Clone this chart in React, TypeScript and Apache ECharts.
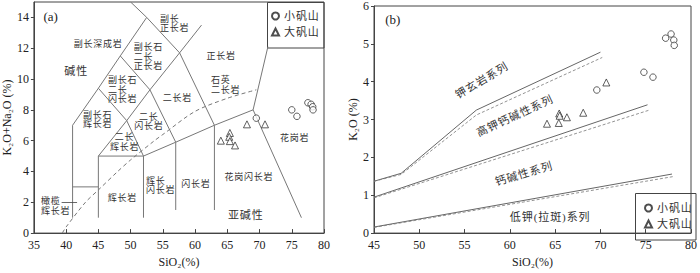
import React, { useEffect, useRef } from 'react';
import * as echarts from 'echarts';

// ---------- data ----------
// (a) TAS diagram points [SiO2, K2O+Na2O]
const xiaoA = [[69.5, 7.46], [75.0, 8.0], [75.8, 7.58], [77.5, 8.46], [78.0, 8.36], [78.25, 8.2], [78.3, 8.0]];
const daA = [[64.0, 6.0], [65.4, 6.5], [65.3, 6.25], [65.4, 5.97], [66.2, 5.69], [68.05, 7.06], [70.85, 7.06]];
// (b) K2O vs SiO2 points
const xiaoB = [[69.6, 3.78], [74.8, 4.25], [75.8, 4.12], [77.2, 5.15], [77.8, 5.26], [78.1, 5.1], [78.15, 4.96]];
const daB = [[64.1, 2.89], [65.4, 2.91], [65.45, 3.16], [65.5, 3.1], [66.3, 3.06], [68.1, 3.18], [70.65, 3.98]];

// (a) field boundaries
const tasLines = [
  [[41, 1], [41, 7]],
  [[41, 3], [45, 3]],
  [[45, 1], [45, 5]],
  [[45, 5], [52, 5], [52, 1]],
  [[45, 5], [49.4, 7.3], [52, 5]],
  [[41, 7], [45, 9.4], [48.4, 11.5], [52.5, 14], [50, 15]],
  [[45, 9.4], [49.4, 7.3]],
  [[48.4, 11.5], [53, 9.3]],
  [[49.4, 7.3], [53, 9.3], [57.6, 11.7], [61, 13.5]],
  [[53, 9.3], [57, 5.9]],
  [[52, 5], [57, 5.9], [63, 7], [69, 8]],
  [[52.5, 14], [57.6, 11.7], [63, 7]],
  [[57, 5.9], [57, 1.5]],
  [[63, 7], [63, 1.5]],
  [[69, 8], [76.5, 1]],
  [[69, 8], [71.3, 12.1]],
];
// Irvine & Baragar alkaline / subalkaline divide
const divideCurve = [[39.4, 0], [40, 0.4], [43, 2], [45, 2.8], [48, 4], [50, 4.75], [53.7, 6], [55, 6.4], [60, 7.9], [65, 8.75], [69.5, 9.3]];

// (b) series boundaries
const kSolid = [
  [[45, 1.37], [48, 1.58], [56.3, 3.25], [70, 4.78]],
  [[45, 0.95], [75.2, 3.39]],
  [[45, 0.16], [77.9, 1.56]],
];
const kDashed = [
  [[45, 1.37], [48, 1.55], [56.3, 3.12], [70.2, 4.64]],
  [[45, 0.93], [75.4, 3.25]],
  [[45, 0.15], [78.2, 1.5]],
];

const namesXiao = '小矾山';
const namesDa = '大矾山';

// annotations: [text, x, y, align, fontSize, rotate]
type Lab = [string, number, number, string, number, number];
const tasLabels: Lab[] = [
  ['副长深成岩', 44.9, 12.3, 'center', 9, 0],
  ['副长\n正长岩', 54.55, 13.6, 'left', 9, 0],
  ['副长石\n二长\n正长岩', 50.5, 11.44, 'left', 9, 0],
  ['碱性', 41.5, 10.5, 'center', 11, 0],
  ['副长石\n二长\n闪长岩', 46.48, 9.31, 'left', 9, 0],
  ['副长石\n辉长岩', 42.6, 7.375, 'left', 9, 0],
  ['二长\n闪长岩', 52.77, 7.25, 'center', 9, 0],
  ['二长\n辉长岩', 49.0, 5.9, 'center', 9, 0],
  ['二长岩', 57.2, 8.8, 'center', 9, 0],
  ['正长岩', 64.0, 11.5, 'center', 9, 0],
  ['石英\n二长岩', 62.47, 9.6, 'left', 9, 0],
  ['花岗岩', 75.4, 6.16, 'center', 9, 0],
  ['花岗闪长岩', 68.3, 3.66, 'center', 9, 0],
  ['闪长岩', 60.06, 3.19, 'center', 9, 0],
  ['辉长\n闪长岩', 52.38, 3.1, 'left', 9, 0],
  ['辉长岩', 48.66, 2.25, 'center', 9, 0],
  ['橄榄\n辉长岩', 36.09, 1.75, 'left', 9, 0],
  ['亚碱性', 67.8, 1.19, 'center', 11, 0],
];
const kLabels: Lab[] = [
  ['钾玄岩系列', 56.85, 4.03, 'center', 11, 31],
  ['高钾钙碱性系列', 60.5, 3.1, 'center', 11, 25],
  ['钙碱性系列', 61.5, 1.57, 'center', 11, 16.5],
  ['低钾(拉斑)系列', 64.4, 0.43, 'center', 11, 0],
];
const panelTags: [string, number, number][] = [['(a)', 37.6, 14.05], ['(b)', 47.07, 5.65]];
const arrowLine = [[39.3, 2.03], [41.7, 2.03]];

// ---------- styles ----------
const SERIF = '"Liberation Serif", "DejaVu Serif", serif';
const CJK = '"Liberation Serif", "Noto Sans CJK SC", sans-serif';
const AXIS = '#444';
const LINE = '#777';
const sp = (s: string) => Array.from(s).join('\u200A');
const SCALE = 2; // draw small texts large, then scale down

function buildOption() {
  const series: any[] = [];
  tasLines.forEach((pl, i) =>
    series.push({
      type: 'line', xAxisIndex: 0, yAxisIndex: 0, data: pl, symbol: 'none', silent: true, lineStyle: { color: LINE, width: 1 }, z: 2,
      ...(i === 0
        ? {
            markLine: {
              silent: true, symbol: ['none', 'arrow'], symbolSize: [0, 5], animation: false,
              lineStyle: { color: '#444', width: 0.8, type: 'solid' }, label: { show: false },
              data: [[{ coord: arrowLine[0] }, { coord: arrowLine[1] }]],
            },
          }
        : {}),
    })
  );
  series.push({ type: 'line', xAxisIndex: 0, yAxisIndex: 0, data: divideCurve, symbol: 'none', smooth: 0.3, silent: true, lineStyle: { color: LINE, width: 1, type: [4, 3] }, z: 2 });
  kSolid.forEach((pl) =>
    series.push({ type: 'line', xAxisIndex: 1, yAxisIndex: 1, data: pl, symbol: 'none', silent: true, lineStyle: { color: '#666', width: 1 }, z: 2 })
  );
  kDashed.forEach((pl) =>
    series.push({ type: 'line', xAxisIndex: 1, yAxisIndex: 1, data: pl, symbol: 'none', silent: true, lineStyle: { color: '#777', width: 0.8, type: [3, 2] }, z: 2 })
  );
  const pt = (name: string, data: number[][], sym: string, idx: number) => ({
    type: 'scatter', name, xAxisIndex: idx, yAxisIndex: idx, data, symbol: sym, symbolSize: sym === 'triangle' ? 7 : 6.5, z: 5,
    itemStyle: { color: '#fff', borderColor: '#222', borderWidth: 0.9 },
  });
  series.push(pt(namesXiao, xiaoA, 'circle', 0));
  series.push(pt(namesDa, daA, 'triangle', 0));
  series.push(pt(namesXiao, xiaoB, 'circle', 1));
  series.push(pt(namesDa, daB, 'triangle', 1));

  const axisCommon = {
    type: 'value',
    splitLine: { show: false },
    axisLine: { show: true, lineStyle: { color: AXIS, width: 1 } },
    axisLabel: { color: '#222', fontFamily: SERIF, fontSize: 12 },
    nameTextStyle: { color: '#222', fontFamily: SERIF, fontSize: 12 },
    nameLocation: 'middle',
  };
  const xAx = (idx: number, min: number, max: number) => ({
    ...axisCommon, gridIndex: idx, min, max, interval: 5,
    axisTick: { inside: true, length: 4, lineStyle: { color: AXIS } },
    axisLabel: { ...axisCommon.axisLabel, margin: 6 },
    name: 'SiO₂(%)', nameGap: 19,
  });
  const legendCommon = {
    orient: 'vertical', itemWidth: 7, itemHeight: 7, itemGap: 2, padding: 0, z: 10,
    data: [namesXiao, namesDa],
    textStyle: { fontFamily: CJK, fontSize: 11, color: '#333', lineHeight: 14 },
    formatter: (n: string) => sp(n),
    selectedMode: false,
  };
  return {
    animation: false,
    backgroundColor: '#fff',
    grid: [
      { left: 33, right: 376, top: 2, bottom: 31, show: true, borderColor: AXIS, borderWidth: 1 },
      { left: 374, right: 4, top: 3, bottom: 33, show: true, borderColor: AXIS, borderWidth: 1 },
    ],
    xAxis: [xAx(0, 35, 80), xAx(1, 45, 80)],
    yAxis: [
      {
        ...axisCommon, gridIndex: 0, min: 0, max: 15, interval: 2,
        axisTick: { inside: false, length: 3, lineStyle: { color: AXIS } },
        axisLabel: { ...axisCommon.axisLabel, margin: 5, showMaxLabel: false },
        name: 'K₂O+Na₂O (%)', nameGap: 19,
      },
      {
        ...axisCommon, gridIndex: 1, min: 0, max: 6, interval: 1,
        axisTick: { inside: false, length: 3, lineStyle: { color: AXIS } },
        axisLabel: { ...axisCommon.axisLabel, margin: 5 },
        name: 'K₂O (%)', nameGap: 12,
      },
    ],
    legend: [
      { ...legendCommon, left: 271, top: 9 },
      { ...legendCommon, left: 644, top: 201 },
    ],
    series,
  };
}

function buildGraphics(chart: echarts.ECharts) {
  const els: any[] = [
    { type: 'rect', z: 1, silent: true, shape: { x: 267.5, y: 2.5, width: 56.5, height: 45.5 }, style: { fill: 'none', stroke: AXIS, lineWidth: 1 } },
    { type: 'rect', z: 1, silent: true, shape: { x: 635.5, y: 193.5, width: 60.5, height: 46.5 }, style: { fill: 'none', stroke: AXIS, lineWidth: 1 } },
  ];
  const addLabels = (labs: Lab[], idx: number) =>
    labs.forEach(([text, x, y, align, fs, rot]) => {
      const p = chart.convertToPixel({ xAxisIndex: idx, yAxisIndex: idx } as any, [x, y]) as number[];
      const lines = text.split('\n');
      const lh = fs + 0.5;
      lines.forEach((line, i) => {
        const dy = (i - (lines.length - 1) / 2) * lh;
        els.push({
          type: 'text', silent: true, z: 3, x: p[0], y: p[1] + dy, rotation: (rot * Math.PI) / 180,
          scaleX: 1 / SCALE, scaleY: 1 / SCALE,
          style: { text: sp(line), fill: '#333', fontFamily: CJK, fontSize: fs * SCALE, align, verticalAlign: 'middle' },
        });
      });
    });
  addLabels(tasLabels, 0);
  addLabels(kLabels, 1);
  panelTags.forEach(([text, x, y], idx) => {
    const p = chart.convertToPixel({ xAxisIndex: idx, yAxisIndex: idx } as any, [x, y]) as number[];
    els.push({ type: 'text', silent: true, z: 3, x: p[0], y: p[1], style: { text, fill: '#222', fontFamily: SERIF, fontSize: 13, align: 'center', verticalAlign: 'middle' } });
  });
  return els;
}

export default function App() {
  const ref = useRef<HTMLDivElement>(null);
  useEffect(() => {
    if (!ref.current) return;
    const chart = echarts.init(ref.current, undefined, { renderer: 'svg' });
    chart.setOption(buildOption() as any);
    chart.setOption({ graphic: buildGraphics(chart) } as any);
    return () => chart.dispose();
  }, []);
  return <div ref={ref} style={{ width: 700, height: 273, position: 'absolute', left: 0, top: 0 }} />;
}
